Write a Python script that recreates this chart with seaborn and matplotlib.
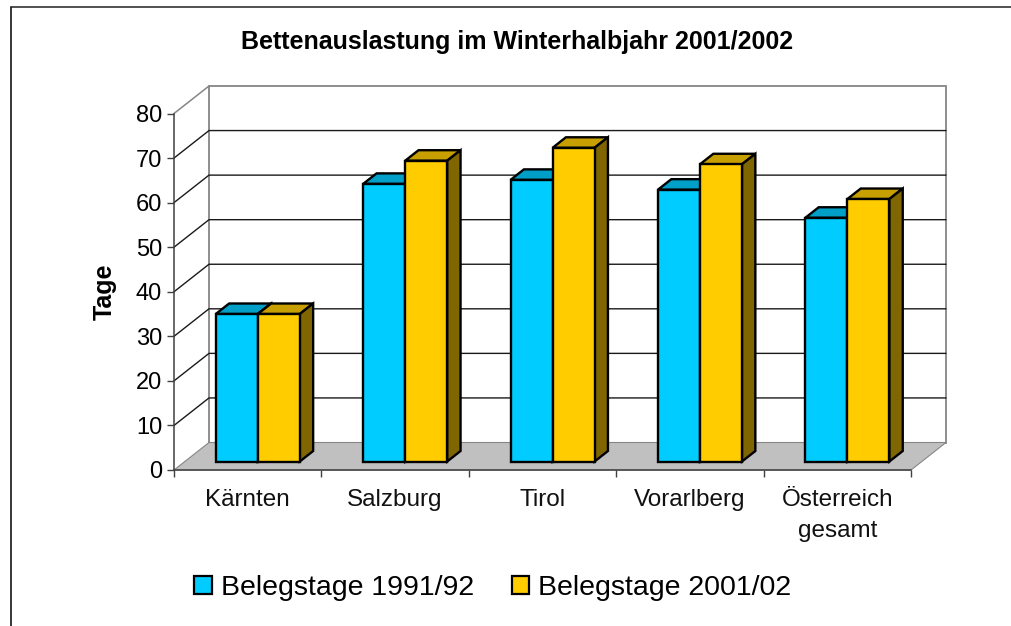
import matplotlib
matplotlib.use('Agg')
import matplotlib.pyplot as plt
from matplotlib.patches import Polygon, Rectangle
import pandas as pd
import seaborn as sns

regionen = ['Kärnten', 'Salzburg', 'Tirol', 'Vorarlberg', 'Österreich\ngesamt']
belegstage_1991 = [33.1, 62.3, 63.2, 61.0, 54.7]
belegstage_2002 = [33.1, 67.5, 70.4, 66.7, 58.9]
serien = ['Belegstage 1991/92', 'Belegstage 2001/02']
y_ticks = [0, 10, 20, 30, 40, 50, 60, 70, 80]

BLAU = '#00CCFF'
GELB = '#FFCC00'
BLAU_OBEN = '#009FC7'
GELB_OBEN = '#C79F00'
GELB_SEITE = '#806600'
BLAU_SEITE = '#006680'
WAND = '#868686'
BODEN = '#C0C0C0'

W, H = 1012, 626
LEFT, RIGHT, TOP, BOTTOM = 174, 911, 113.5, 470

df = pd.DataFrame({
    'region': regionen * 2,
    'tage': belegstage_1991 + belegstage_2002,
    'serie': [serien[0]] * 5 + [serien[1]] * 5,
})

sns.set_theme(style='white')
plt.rcParams['font.family'] = ['Liberation Sans', 'DejaVu Sans']

fig = plt.figure(figsize=(W / 100, H / 100), dpi=100)
ax = fig.add_axes([LEFT / W, 1 - BOTTOM / H, (RIGHT - LEFT) / W, (BOTTOM - TOP) / H])

sns.barplot(data=df, x='region', y='tage', hue='serie', hue_order=serien,
            palette=[BLAU, GELB], width=0.57, gap=0, saturation=1, ax=ax, legend=False)
ax.set_xlim(-0.5, 4.5)
ax.set_ylim(0, 80)

# 3D depth in data units (35px / 27.5px on screen)
tiefe_x = 35 / ((RIGHT - LEFT) / 5)
tiefe_y = 27.5 / ((BOTTOM - TOP) / 80)
rand = 8.5 / 27.5       # gap between floor edge and bar
balken = 10.5 / 27.5    # bar depth

# back wall and floor
ax.add_patch(Polygon([(-0.5 + tiefe_x, tiefe_y), (4.5 + tiefe_x, tiefe_y),
                      (4.5 + tiefe_x, 80 + tiefe_y), (-0.5 + tiefe_x, 80 + tiefe_y)],
                     fc='white', ec=WAND, lw=1.3, clip_on=False, zorder=0.5))
ax.add_patch(Polygon([(-0.5, 0), (4.5, 0), (4.5 + tiefe_x, tiefe_y), (-0.5 + tiefe_x, tiefe_y)],
                     fc=BODEN, ec=WAND, lw=0.8, clip_on=False, zorder=0.6))
ax.plot([-0.5, -0.5 + tiefe_x], [80, 80 + tiefe_y], color=WAND, lw=1.1, clip_on=False, zorder=0.7)
for t in y_ticks[1:-1]:
    ax.plot([-0.5, -0.5 + tiefe_x, 4.5 + tiefe_x], [t, t + tiefe_y, t + tiefe_y],
            color='#1a1a1a', lw=1.0, clip_on=False, zorder=0.7)

# shift the bars onto the floor and add top and side faces
for p in list(ax.patches):
    if not isinstance(p, Rectangle) or p.get_width() > 1:
        continue
    p.set_x(p.get_x() + rand * tiefe_x - 0.005)
    p.set_y(rand * tiefe_y)
    p.set_edgecolor('black')
    p.set_linewidth(1.7)
    p.set_clip_on(False)
    p.set_zorder(3)
    x0, x1 = p.get_x(), p.get_x() + p.get_width()
    y0, y1 = p.get_y(), p.get_y() + p.get_height()
    dx, dy = balken * tiefe_x, balken * tiefe_y
    gelb = matplotlib.colors.to_hex(p.get_facecolor()).upper() == GELB
    ax.add_patch(Polygon([(x0, y1), (x1, y1), (x1 + dx, y1 + dy), (x0 + dx, y1 + dy)],
                         fc=GELB_OBEN if gelb else BLAU_OBEN, ec='black', lw=1.7,
                         clip_on=False, zorder=2 if not gelb else 2.5))
    ax.add_patch(Polygon([(x1, y0), (x1 + dx, y0 + dy), (x1 + dx, y1 + dy), (x1, y1)],
                         fc=GELB_SEITE if gelb else BLAU_SEITE, ec='black', lw=1.7,
                         clip_on=False, zorder=2 if not gelb else 2.5))

sns.despine(ax=ax, top=True, right=True)
for s in ['left', 'bottom']:
    ax.spines[s].set_color('#404040')
    ax.spines[s].set_linewidth(1.1)
    ax.spines[s].set_zorder(1)
ax.patch.set_alpha(0)

ax.set_yticks(y_ticks)
ax.set_yticklabels([str(t) for t in y_ticks])
ax.set_xticks([-0.5, 0.5, 1.5, 2.5, 3.5, 4.5])
ax.set_xticklabels([])
ax.tick_params(axis='both', which='major', length=5, width=1, color='#404040', left=True, bottom=True)
ax.tick_params(axis='y', labelsize=17, labelcolor='black', pad=3.5)
for i, name in enumerate(regionen):
    ax.annotate(name, (i, 0), xytext=(0, -14), textcoords='offset points', ha='center', va='top',
                fontsize=17.5, color='#111111', linespacing=1.5, xycoords='data')
ax.set_xlabel('')
ax.set_ylabel('Tage', fontsize=18, fontweight='bold', color='black', labelpad=14)

fig.text(517 / W, 1 - 41.5 / H, 'Bettenauslastung im Winterhalbjahr 2001/2002', ha='center', va='center',
         fontsize=18, fontweight='bold', color='black')

# legend
handles = [Rectangle((0, 0), 1, 1, fc=BLAU, ec='black', lw=1.6),
           Rectangle((0, 0), 1, 1, fc=GELB, ec='black', lw=1.6)]
fig.legend(handles, serien, loc='center', bbox_to_anchor=(493 / W, 1 - 588 / H), ncols=2, frameon=False,
           fontsize=20.5, handlelength=0.6, handleheight=0.6, handletextpad=0.33, columnspacing=1.33,
           labelcolor='black')

# chart border
fig.add_artist(plt.Line2D([10.5 / W, 10.5 / W], [0, 1 - 7 / H], color='black', lw=1.1))
fig.add_artist(plt.Line2D([10.5 / W, 1], [1 - 7 / H, 1 - 7 / H], color='#222222', lw=1.1))
fig.savefig('out.png', dpi=100)
